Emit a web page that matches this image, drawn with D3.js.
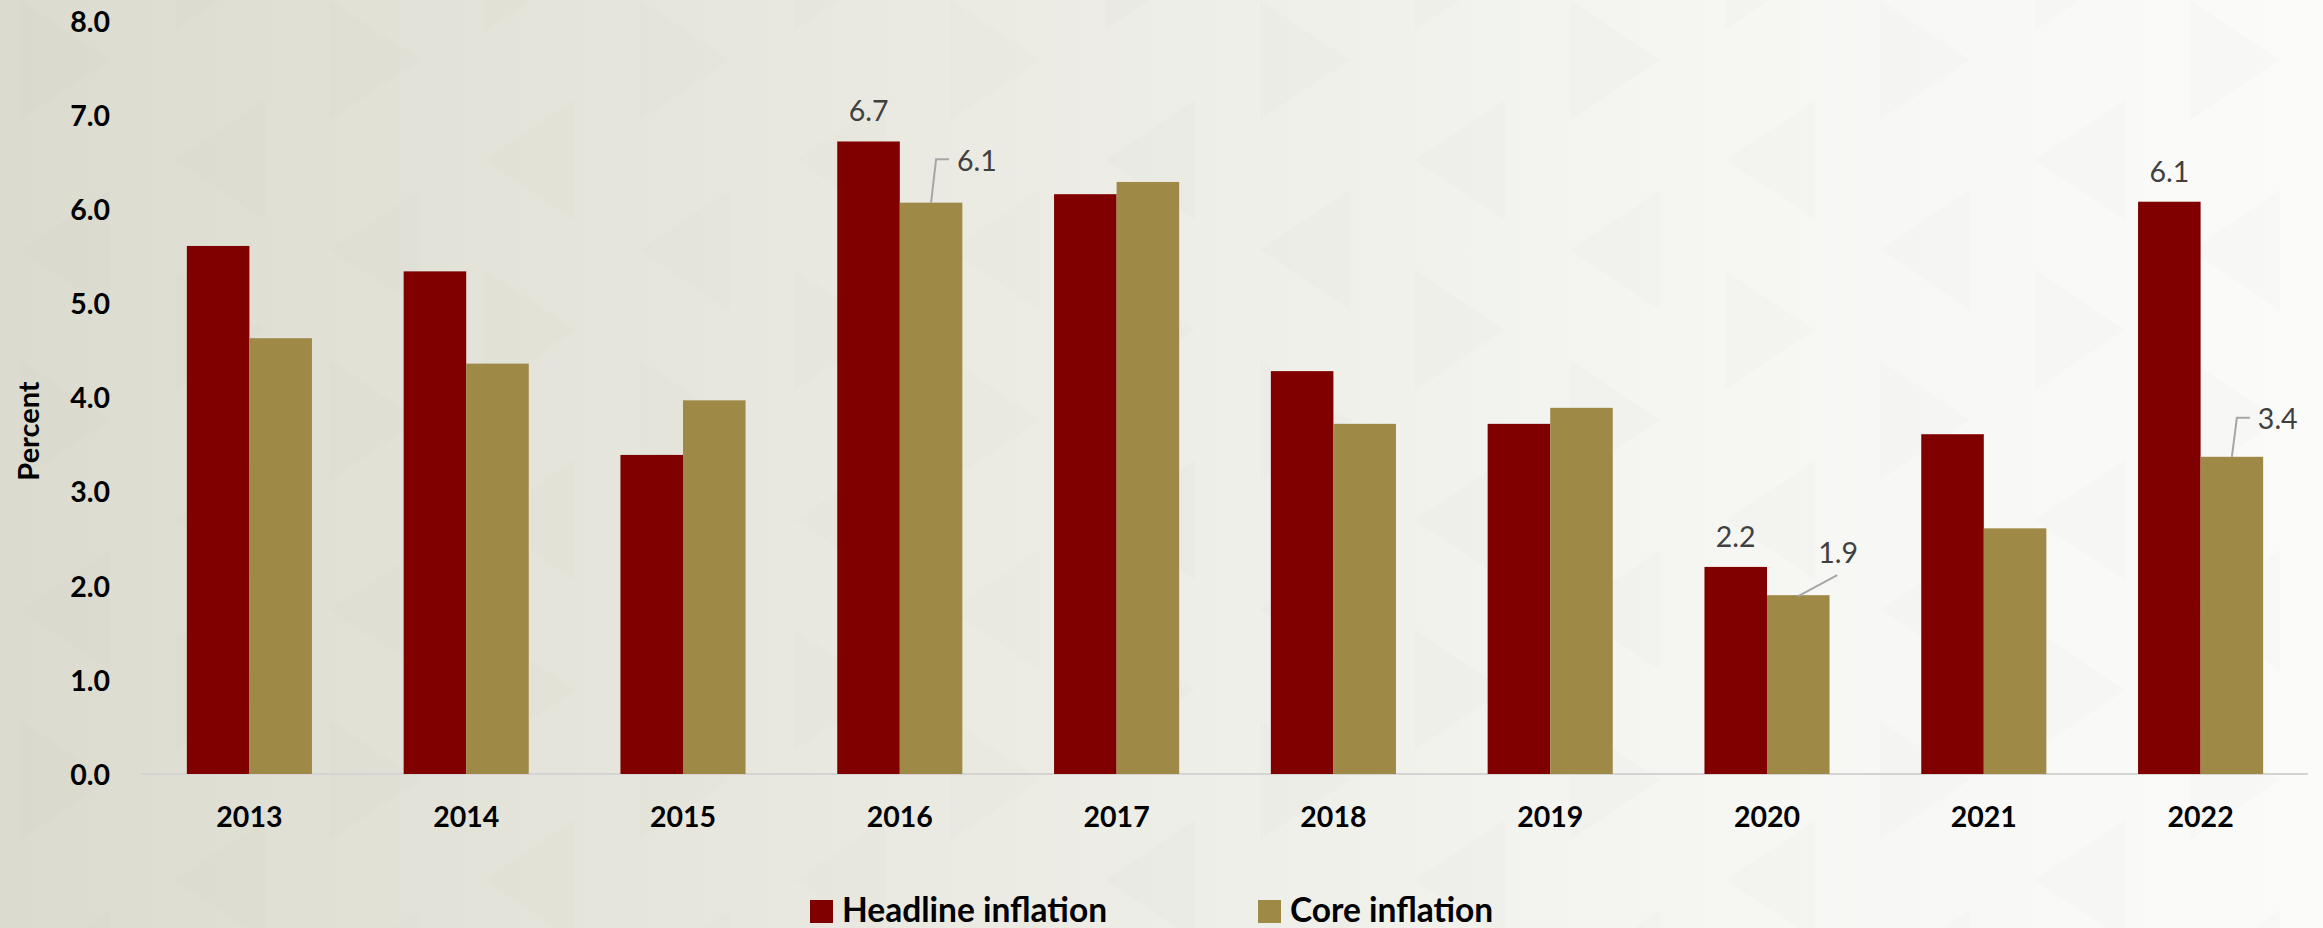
<!DOCTYPE html>
<html>
<head>
<meta charset="utf-8">
<script src="https://cdn.jsdelivr.net/npm/d3@7"></script>
<style>
  html, body { margin: 0; padding: 0; }
  body { width: 2323px; height: 928px; overflow: hidden; }
  svg { display: block; }
</style>
</head>
<body>
<svg id="chart" width="2323" height="928"></svg>
<script>
// ---- data ----
const years = ["2013","2014","2015","2016","2017","2018","2019","2020","2021","2022"];
const headline = [5.61, 5.34, 3.39, 6.72, 6.16, 4.28, 3.72, 2.20, 3.61, 6.08];
const core     = [4.63, 4.36, 3.97, 6.07, 6.29, 3.72, 3.89, 1.90, 2.61, 3.37];
const yTicks = [0, 1, 2, 3, 4, 5, 6, 7, 8];
const seriesNames = ["Headline inflation", "Core inflation"];
// labelled points: [year, series index]
const labelled = [["2016",0],["2016",1],["2020",0],["2020",1],["2022",0],["2022",1]];

// ---- styling / layout ----
const W = 2323, H = 928;
const colors = ["#800000", "#9e8947"];
const FONT = "Lato, 'Open Sans', 'DejaVu Sans', sans-serif";

const svg = d3.select("#chart");

// background
const defs = svg.append("defs");
const grad = defs.append("linearGradient").attr("id","bg").attr("x1","0").attr("x2","1").attr("y1","0").attr("y2","0");
grad.append("stop").attr("offset","0").attr("stop-color","#dbdbcf");
grad.append("stop").attr("offset","0.45").attr("stop-color","#ecece5");
grad.append("stop").attr("offset","0.75").attr("stop-color","#f6f6f3");
grad.append("stop").attr("offset","1").attr("stop-color","#fbfbfa");
svg.append("rect").attr("width",W).attr("height",H).attr("fill","url(#bg)");

// faint decorative triangle pattern
const pat = svg.append("g").attr("opacity",0.3);
const cw = 155, rh = 180;
for (let c = 0; c < Math.ceil(W / cw) + 1; c++) {
  for (let r = -1; r < Math.ceil(H / rh) + 1; r++) {
    const x0 = c * cw, y0 = r * rh + (c % 2 ? rh / 2 : 0);
    const right = (c + r) % 2 === 0;
    const pts = right
      ? [[x0 + 20, y0], [x0 + 20, y0 + 120], [x0 + 110, y0 + 60]]
      : [[x0 + 110, y0 + 10], [x0 + 110, y0 + 130], [x0 + 20, y0 + 70]];
    pat.append("polygon")
      .attr("points", pts.map(p => p.join(",")).join(" "))
      .attr("fill", "rgba(120,120,100,0.05)");
  }
}

// scales
const x0 = d3.scaleBand().domain(years).range([141, 2309]).paddingInner(0.423).paddingOuter(0.2115);
const x1 = d3.scaleBand().domain([0,1]).range([0, x0.bandwidth()]);
const y = d3.scaleLinear().domain([0, 8]).range([774, 21]);

const g = svg.append("g");

// baseline axis
g.append("line")
  .attr("x1", 141).attr("x2", 2308)
  .attr("y1", y(0)).attr("y2", y(0))
  .attr("stroke", "#d4d4d4").attr("stroke-width", 2);

// bars
const vals = [headline, core];
years.forEach((yr, i) => {
  [0,1].forEach(s => {
    g.append("rect")
      .attr("x", x0(yr) + x1(s))
      .attr("y", y(vals[s][i]))
      .attr("width", x1.bandwidth())
      .attr("height", y(0) - y(vals[s][i]))
      .attr("fill", colors[s]);
  });
});

// y axis labels
const yAxis = d3.axisLeft(y).tickValues(yTicks).tickFormat(d3.format(".1f")).tickSize(0).tickPadding(0);
const ya = g.append("g").attr("transform","translate(110,0)").call(yAxis);
ya.select(".domain").remove();
ya.selectAll("text")
  .attr("font-family", FONT).attr("font-weight", "bold").attr("font-size", 28.5)
  .attr("fill", "#000").attr("dy", "0.36em");

// x axis labels
const xAxis = d3.axisBottom(x0).tickSize(0).tickPadding(0);
const xa = g.append("g").attr("transform", "translate(0,774)").call(xAxis);
xa.select(".domain").remove();
xa.selectAll("text")
  .attr("font-family", FONT).attr("font-weight", "bold").attr("font-size", 28.5)
  .attr("fill", "#000").attr("dy", null).attr("y", 53);

// y title
g.append("text")
  .attr("transform", "translate(39,431) rotate(-90)")
  .attr("text-anchor", "middle")
  .attr("font-family", FONT).attr("font-weight", "bold").attr("font-size", 29)
  .attr("fill", "#000")
  .text("Percent");

// data labels
const labelFmt = d3.format(".1f");
const leaderStyle = { stroke: "#a6a6a6", width: 2 };
labelled.forEach(([yr, s]) => {
  const i = years.indexOf(yr);
  const v = vals[s][i];
  const cx = x0(yr) + x1(s) + x1.bandwidth() / 2;
  const top = y(v);
  const t = g.append("text")
    .attr("font-family", FONT).attr("font-size", 28.5).attr("fill", "#404040")
    .text(labelFmt(v));
  if (s === 0) {
    t.attr("x", cx).attr("y", top - 20).attr("text-anchor", "middle");
  } else if (yr === "2020") {
    t.attr("x", cx + 20).attr("y", top - 32).attr("text-anchor", "start");
    g.append("line").attr("x1", cx).attr("y1", top + 1).attr("x2", cx + 39).attr("y2", top - 20)
      .attr("stroke", leaderStyle.stroke).attr("stroke-width", leaderStyle.width);
  } else {
    const dyTop = yr === "2016" ? 32 : 27.5;
    const hy = top - (yr === "2016" ? 43.5 : 39);
    t.attr("x", cx + 26).attr("y", top - dyTop).attr("text-anchor", "start");
    g.append("path")
      .attr("d", `M${cx},${top} L${cx + 5},${hy} L${cx + 18},${hy}`)
      .attr("fill", "none").attr("stroke", leaderStyle.stroke).attr("stroke-width", leaderStyle.width);
  }
});

// legend
const legendX = [810, 1258];
seriesNames.forEach((name, s) => {
  const lg = g.append("g").attr("transform", `translate(${legendX[s]},900)`);
  lg.append("rect").attr("width", 23).attr("height", 23).attr("fill", colors[s]);
  lg.append("text").attr("x", 32).attr("y", 22)
    .attr("font-family", FONT).attr("font-weight", "bold").attr("font-size", 33.5)
    .attr("fill", "#000").text(name);
});
</script>
</body>
</html>
